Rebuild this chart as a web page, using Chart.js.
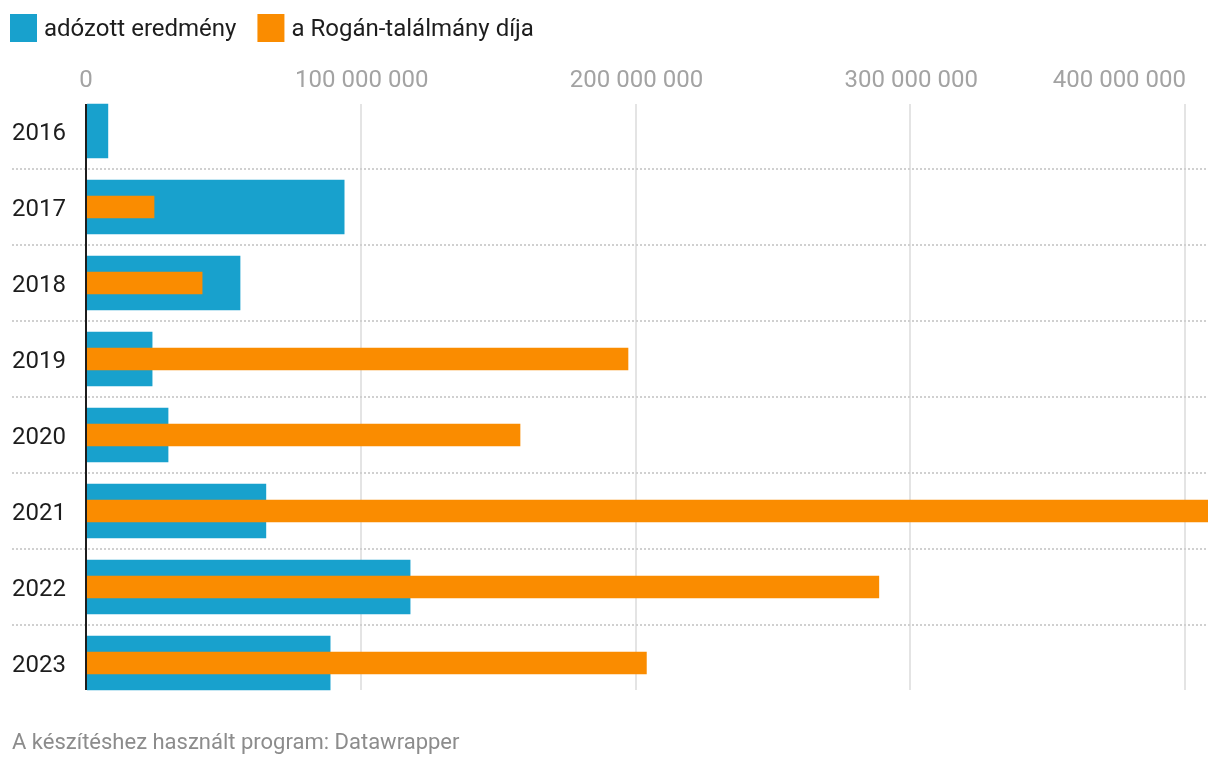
<!DOCTYPE html>
<html>
<head>
<meta charset="utf-8">
<script src="https://cdn.jsdelivr.net/npm/chart.js@4/dist/chart.umd.min.js"></script>
<style>
  html, body { margin: 0; padding: 0; background: #ffffff; }
  #wrap { position: relative; width: 1220px; height: 768px; }
  canvas { display: block; }
</style>
</head>
<body>
<div id="wrap"><canvas id="c" width="1220" height="768"></canvas></div>
<script>
// ---- data ----
const years = ['2016', '2017', '2018', '2019', '2020', '2021', '2022', '2023'];
const adozottEredmeny = [7600000, 93600000, 55700000, 23700000, 29500000, 65100000, 117600000, 88500000];
const roganDij = [null, 24400000, 41900000, 196900000, 157600000, 408000000, 288200000, 203600000];
const seriesNames = ['adózott eredmény', 'a Rogán-találmány díja'];
const tickValues = [0, 100000000, 200000000, 300000000, 400000000];
const tickLabels = ['0', '100 000 000', '200 000 000', '300 000 000', '400 000 000'];
const footerText = 'A készítéshez használt program: Datawrapper';

const BLUE = '#18a1cd';
const ORANGE = '#fa8c00';
const FONT = 'Roboto, "Noto Sans", sans-serif';

const decorPlugin = {
  id: 'decor',
  beforeDatasetsDraw(chart) {
    const ctx = chart.ctx;
    const x = chart.scales.x, y = chart.scales.y;
    const barTop = y.getPixelForValue(0) - 27;
    const barBot = y.getPixelForValue(years.length - 1) + 27;
    ctx.save();
    // vertical grid lines
    ctx.strokeStyle = '#e4e4e4';
    ctx.lineWidth = 2;
    tickValues.forEach(v => {
      if (v === 0) return;
      const px = Math.round(x.getPixelForValue(v)) - 1;
      ctx.beginPath();
      ctx.moveTo(px, barTop);
      ctx.lineTo(px, barBot);
      ctx.stroke();
    });
    // dotted row separators
    ctx.strokeStyle = '#d0d0d0';
    ctx.lineWidth = 2;
    ctx.setLineDash([2, 2]);
    for (let i = 0; i < years.length - 1; i++) {
      const yy = Math.round((y.getPixelForValue(i) + y.getPixelForValue(i + 1)) / 2);
      ctx.beginPath();
      ctx.moveTo(12, yy);
      ctx.lineTo(chart.chartArea.right, yy);
      ctx.stroke();
    }
    ctx.setLineDash([]);
    ctx.restore();
  },
  afterDatasetsDraw(chart) {
    const ctx = chart.ctx;
    const x = chart.scales.x, y = chart.scales.y;
    const barTop = y.getPixelForValue(0) - 27;
    const barBot = y.getPixelForValue(years.length - 1) + 27;
    ctx.save();
    // zero line
    const zx = x.getPixelForValue(0) - 1;
    ctx.strokeStyle = '#1d1d1d';
    ctx.lineWidth = 2;
    ctx.beginPath();
    ctx.moveTo(zx, barTop);
    ctx.lineTo(zx, barBot);
    ctx.stroke();

    // x tick labels (top)
    ctx.font = '24px ' + FONT;
    ctx.fillStyle = '#a3a3a3';
    ctx.textBaseline = 'alphabetic';
    tickValues.forEach((v, i) => {
      let px = x.getPixelForValue(v);
      if (i === tickValues.length - 1) {
        ctx.textAlign = 'right';
      } else {
        ctx.textAlign = 'center';
        if (v === 0) px -= 1;
      }
      ctx.fillText(tickLabels[i], px, 87);
    });

    // year labels
    ctx.fillStyle = '#1d1d1d';
    ctx.textAlign = 'left';
    years.forEach((yr, i) => {
      ctx.fillText(yr, 12, y.getPixelForValue(i) + 9);
    });

    // legend
    ctx.font = '24px ' + FONT;
    let lx = 10;
    const colors = [BLUE, ORANGE];
    seriesNames.forEach((name, i) => {
      ctx.fillStyle = colors[i];
      ctx.fillRect(lx, 14, 27, 28);
      ctx.fillStyle = '#1d1d1d';
      ctx.textAlign = 'left';
      ctx.fillText(name, lx + 34, 36);
      lx = lx + 34 + ctx.measureText(name).width + 21;
    });

    // footer
    ctx.font = '22px ' + FONT;
    ctx.fillStyle = '#8c8c8c';
    ctx.fillText(footerText, 12, 749);
    ctx.restore();
  }
};

new Chart(document.getElementById('c'), {
  type: 'bar',
  data: {
    labels: years,
    datasets: [
      {
        label: seriesNames[0],
        data: adozottEredmeny,
        backgroundColor: BLUE,
        barThickness: 54,
        order: 2,
        grouped: false
      },
      {
        label: seriesNames[1],
        data: roganDij,
        backgroundColor: ORANGE,
        barThickness: 22,
        order: 1,
        grouped: false
      }
    ]
  },
  options: {
    indexAxis: 'y',
    responsive: false,
    animation: false,
    devicePixelRatio: 1,
    layout: { padding: { left: 87, right: 12, top: 93, bottom: 67 } },
    plugins: { legend: { display: false }, tooltip: { enabled: false } },
    scales: {
      x: { type: 'linear', min: 0, max: 408000000, display: false },
      y: { type: 'category', offset: true, display: false }
    }
  },
  plugins: [decorPlugin]
});
</script>
</body>
</html>
